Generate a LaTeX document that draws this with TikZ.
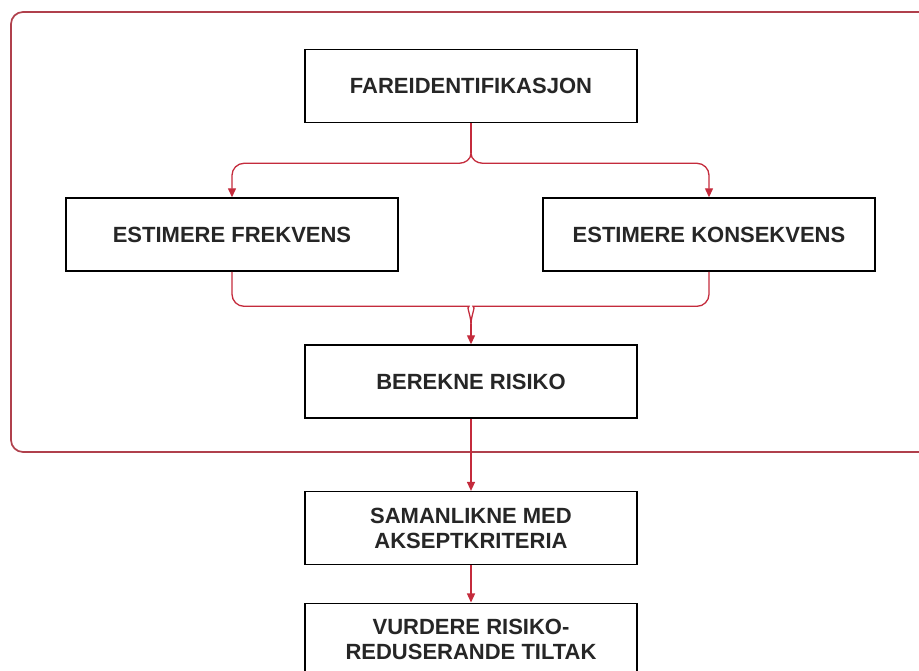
\documentclass[tikz,border=0pt]{standalone}
\usepackage{fontspec}
\setmainfont{Liberation Sans}
\usetikzlibrary{arrows.meta,positioning,calc}
\definecolor{risRed}{HTML}{C42B3C}
\definecolor{risFrame}{HTML}{B0404C}
\definecolor{risText}{HTML}{262626}

\begin{document}
\begin{tikzpicture}[x=1pt,y=1pt,
  font=\fontsize{22}{25}\selectfont\bfseries,
  boks/.style={draw=black,line width=1.6pt,fill=white,text=risText,
               minimum width=332pt,minimum height=73pt,inner sep=0pt,align=center},
  lenke/.style={draw=risRed,line width=1.3pt},
  pil/.style={lenke,-{Triangle[length=9pt,width=8pt]}}]
  \path[use as bounding box,clip] (0,0) rectangle (919,670);
  % ramme rundt risikoanalysen
  \draw[risFrame,line width=1.7pt,rounded corners=12pt] (11,218) rectangle (960,658);
  \node[boks] (fare) at (471,584) {FAREIDENTIFIKASJON};
  \node[boks,below=74pt of fare,xshift=-239pt] (frek) {ESTIMERE FREKVENS};
  \node[boks,below=74pt of fare,xshift=238pt] (kons) {ESTIMERE KONSEKVENS};
  \node[boks,below=221pt of fare] (bere) {BEREKNE RISIKO};
  \node[boks,below=72pt of bere] (saman) {SAMANLIKNE MED\\AKSEPTKRITERIA};
  \node[boks,below=37pt of saman] (vurd) {VURDERE RISIKO-\\REDUSERANDE TILTAK};
  % forgreining og samling
  \coordinate (del) at ($(fare.south)+(0,-30)$);
  \coordinate (samle) at ($(bere.north)+(0,20)$);
  \draw[lenke] (fare.south) -- (del);
  \draw[pil] (del) to[out=-90,in=0] ++(-12,-10) [rounded corners=12pt] -| (frek.north);
  \draw[pil] (del) to[out=-90,in=180] ++(12,-10) [rounded corners=12pt] -| (kons.north);
  \draw[lenke,rounded corners=12pt] (frek.south) |- ($(samle)+(-14,18)$)
    [sharp corners] to[out=0,in=90] (samle);
  \draw[lenke,rounded corners=12pt] (kons.south) |- ($(samle)+(14,18)$)
    [sharp corners] to[out=180,in=90] (samle);
  \draw[pil] (samle) -- (bere.north);
  \draw[pil] (bere) -- (saman);
  \draw[pil] (saman) -- (vurd);
\end{tikzpicture}
\end{document}
